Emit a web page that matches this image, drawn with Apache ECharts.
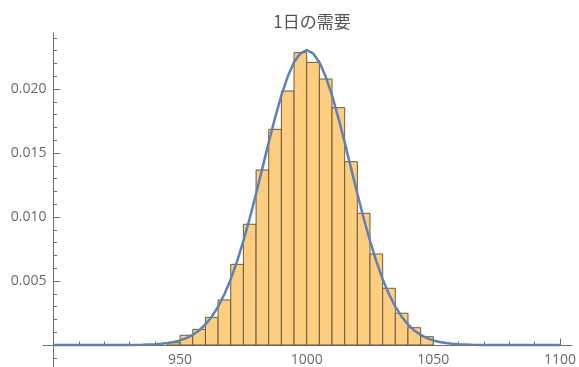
<!DOCTYPE html>
<html><head><meta charset="utf-8">
<script src="https://cdn.jsdelivr.net/npm/echarts@6/dist/echarts.min.js"></script>
<style>html,body{margin:0;padding:0;background:#fff}#c{width:579px;height:367px}</style>
</head><body><div id="c"></div>
<script>
const chartTitle = '1日の需要';
const binStarts = [945,950,955,960,965,970,975,980,985,990,995,1000,1005,1010,1015,1020,1025,1030,1035,1040,1045];
const binWidth = 5;
const density = [0.00018,0.00076,0.00122,0.00216,0.00352,0.0063,0.00943,0.01367,0.01685,0.01984,0.02284,
                 0.02208,0.02078,0.01854,0.01432,0.01029,0.00711,0.00443,0.00248,0.00135,0.00065];
const curveX = [900,910,920,925,930,935,940,942.5,945,947.5,950,952.5,955,957.5,960,962.5,965,967.5,970,972.5,975,977.5,980,982.5,985,987.5,990,992.5,995,997.5,
                1000,1002.5,1005,1007.5,1010,1012.5,1015,1017.5,1020,1022.5,1025,1027.5,1030,1032.5,1035,1037.5,1040,1042.5,1045,1047.5,1050,1052.5,1055,1057.5,1060,1065,1070,1075,1080,1090,1100];
const curveY = [0,0,0,0.000001,0.000006,0.00002,0.000057,0.0001,0.00015,0.00024,0.00036,0.00054,0.00079,0.00113,0.0016,0.00221,0.00299,0.00396,0.00514,0.00653,0.00813,0.0099,0.01182,0.01382,0.01583,0.01775,0.0195,0.02097,0.02209,0.02279,
                0.02303,0.02279,0.02209,0.02097,0.0195,0.01775,0.01583,0.01382,0.01182,0.0099,0.00813,0.00653,0.00514,0.00396,0.00299,0.00221,0.0016,0.00113,0.00079,0.00054,0.00036,0.00024,0.00015,0.0001,0.000057,0.00002,0.000006,0.000001,0,0,0];
const xMajorTicks = [950,1000,1050,1100];
const xMinorTicks = [910,920,930,940,960,970,980,990,1010,1020,1030,1040,1060,1070,1080,1090];
const yMajorTicks = [0.005,0.010,0.015,0.020];
const yMinorTicks = [-0.001,0.001,0.002,0.003,0.004,0.006,0.007,0.008,0.009,0.011,0.012,0.013,0.014,0.016,0.017,0.018,0.019,0.021,0.022,0.023,0.024];

const X_MIN = 895.97, X_MAX = 1104.66, Y_MIN = -0.00172, Y_MAX = 0.024375;
const axisColor = '#6e6e6e';
const labelFont = {fontFamily: 'Open Sans', fontSize: 14, color: '#6a6a6a'};

const chart = echarts.init(document.getElementById('c'), null, {renderer: 'canvas'});
chart.setOption({
  animation: false,
  backgroundColor: '#fff',
  title: {
    text: chartTitle, left: 307, top: 8, textAlign: 'center',
    textStyle: {fontFamily: 'Noto Sans CJK JP', fontSize: 17, fontWeight: 'normal', color: '#555'}
  },
  grid: {left: 43.3, right: 7.3, top: 33, bottom: 0, containLabel: false, outerBoundsMode: 'none'},
  xAxis: [
    {type: 'value', min: X_MIN, max: X_MAX, position: 'bottom',
     axisLine: {onZero: true, onZeroAxisIndex: 0, lineStyle: {color: axisColor, width: 1}},
     axisTick: {show: true, inside: true, length: 6.5, customValues: xMajorTicks, lineStyle: {color: axisColor}},
     axisLabel: {show: true, margin: -14, customValues: xMajorTicks, ...labelFont, formatter: v => String(v)},
     splitLine: {show: false}},
    {type: 'value', min: X_MIN, max: X_MAX, position: 'top',
     axisLine: {show: true, onZero: true, onZeroAxisIndex: 0, lineStyle: {color: axisColor, width: 1}},
     axisTick: {show: true, inside: false, length: 3.4, customValues: xMinorTicks, lineStyle: {color: axisColor}},
     axisLabel: {show: false},
     splitLine: {show: false}}
  ],
  yAxis: [
    {type: 'value', min: Y_MIN, max: Y_MAX, position: 'left', offset: -10.2,
     axisLine: {show: true, onZero: false, lineStyle: {color: axisColor, width: 1}},
     axisTick: {show: true, inside: true, length: 6.5, customValues: yMajorTicks, lineStyle: {color: axisColor}},
     axisLabel: {show: true, margin: 7, customValues: yMajorTicks, ...labelFont, formatter: v => v.toFixed(3)},
     splitLine: {show: false}},
    {type: 'value', min: Y_MIN, max: Y_MAX, position: 'right', offset: -518.2,
     axisLine: {show: false, onZero: false},
     axisTick: {show: true, inside: false, length: 3.6, customValues: yMinorTicks, lineStyle: {color: axisColor}},
     axisLabel: {show: false},
     splitLine: {show: false}}
  ],
  series: [
    {
      type: 'custom', xAxisIndex: 0, yAxisIndex: 0, z: 3,
      data: binStarts.map((s, i) => [s, s + binWidth, density[i]]),
      encode: {x: [0, 1], y: 2},
      renderItem: function (params, api) {
        const p0 = api.coord([api.value(0), api.value(2)]);
        const p1 = api.coord([api.value(1), 0]);
        return {type: 'rect',
          shape: {x: p0[0], y: p0[1], width: p1[0] - p0[0], height: p1[1] - p0[1]},
          style: {fill: '#FDCE7F', stroke: '#6b5a3f', lineWidth: 1}};
      }
    },
    {
      type: 'line', xAxisIndex: 0, yAxisIndex: 0, z: 4,
      data: curveX.map((x, i) => [x, curveY[i]]),
      showSymbol: false, symbol: 'none', smooth: false,
      lineStyle: {color: '#5E81B5', width: 2.5}
    }
  ]
});
</script></body></html>
